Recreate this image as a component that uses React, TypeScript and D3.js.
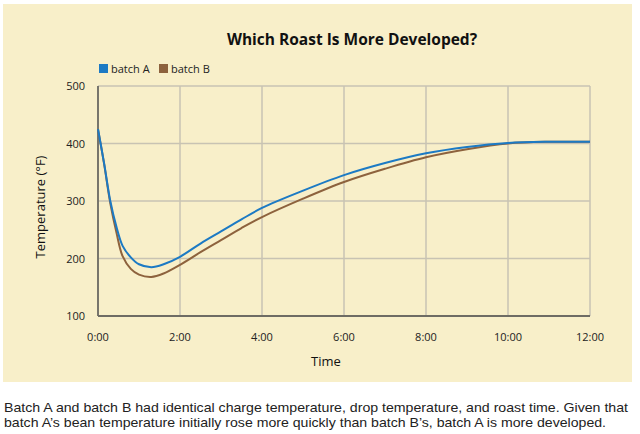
import * as React from "react"
import * as d3 from "d3"

// time in minutes
const times = [0, 0.15, 0.3, 0.45, 0.6, 0.8, 1.0, 1.3, 1.6, 2.0, 2.5, 3.0, 3.5, 4, 5, 6, 7, 8, 9, 10, 11, 12]
const batchA = [425, 365, 300, 255, 222, 202, 190, 185, 190, 203, 226, 247, 268, 288, 318, 345, 366, 383, 394, 401, 403, 403]
const batchB = [425, 364, 296, 245, 204, 182, 172, 168, 174, 189, 211, 232, 253, 272, 304, 333, 356, 376, 390, 400, 403, 403]

const xTicks = [0, 2, 4, 6, 8, 10, 12]
const yTicks = [100, 200, 300, 400, 500]

const seriesNames = ["batch A", "batch B"]
const seriesColors = ["#1c7ac4", "#8d623d"]

const caption = [
    "Batch A and batch B had identical charge temperature, drop temperature, and roast time. Given that",
    "batch A\u2019s bean temperature initially rose more quickly than batch B\u2019s, batch A is more developed.",
]

const W = 640
const H = 434
const margin = { top: 86, right: 50, bottom: 118, left: 98 }

const fmtTime = (m: number): string => m + ":00"

export default function App(): JSX.Element {
    const x = d3.scaleLinear().domain([0, 12]).range([margin.left, W - margin.right])
    const y = d3.scaleLinear().domain([100, 500]).range([H - margin.bottom, margin.top])

    const line = d3.line<number>()
        .x((d, i) => x(times[i]))
        .y(d => y(d))
        .curve(d3.curveCatmullRom.alpha(0.5))

    const font = "'Open Sans', 'Noto Sans', sans-serif"

    return (
        <div style={{ position: "absolute", left: 0, top: 0 }}>
            <svg width={W} height={H} style={{ display: "block", background: "#fff" }} fontFamily={font}>
                {/* panel */}
                <rect x={3} y={4} width={629} height={378} fill="#f8efc9" />

                <text x={352} y={45} textAnchor="middle" fontSize={15.5} fontWeight="bold" fill="#111">
                    Which Roast Is More Developed?
                </text>

                {/* legend */}
                {seriesNames.map((name, i) => (
                    <g key={name} transform={`translate(${99 + i * 60},64)`}>
                        <rect width={9} height={9} fill={seriesColors[i]} />
                        <text x={12} y={8.5} fontSize={11} fill="#222">{name}</text>
                    </g>
                ))}

                {/* grid */}
                {xTicks.map(t => (
                    <line key={"gx" + t} x1={x(t)} x2={x(t)} y1={y(500)} y2={y(100)} stroke="#c8c3b3" strokeWidth={1.5} />
                ))}
                {yTicks.map(t => (
                    <line key={"gy" + t} x1={x(0)} x2={x(12)} y1={y(t)} y2={y(t)} stroke="#c8c3b3" strokeWidth={1.5} />
                ))}

                {/* axes */}
                <line x1={x(0)} x2={x(0)} y1={y(500)} y2={y(100)} stroke="#6e6c64" strokeWidth={1.8} />
                <line x1={x(0)} x2={x(12)} y1={y(100)} y2={y(100)} stroke="#6e6c64" strokeWidth={1.8} />

                {yTicks.map(t => (
                    <text key={"yl" + t} x={85} y={y(t) + 4} textAnchor="end" fontSize={11} fill="#222">{t}</text>
                ))}
                {xTicks.map(t => (
                    <text key={"xl" + t} x={x(t)} y={341} textAnchor="middle" fontSize={11} fill="#222">{fmtTime(t)}</text>
                ))}

                <text x={326} y={366} textAnchor="middle" fontSize={13} fill="#111">Time</text>
                <text transform="translate(45,207) rotate(-90)" textAnchor="middle" fontSize={13} fill="#111">
                    Temperature (°F)
                </text>

                {/* lines */}
                <path d={line(batchB) || ""} fill="none" stroke={seriesColors[1]} strokeWidth={2} />
                <path d={line(batchA) || ""} fill="none" stroke={seriesColors[0]} strokeWidth={2} />

                {/* caption */}
                {caption.map((c, i) => (
                    <text key={i} x={4} y={412 + i * 15} fontSize={13} fill="#222"
                        fontFamily="'Liberation Sans', sans-serif"
                        textLength={i === 0 ? 624 : 602} lengthAdjust="spacingAndGlyphs">{c}</text>
                ))}
            </svg>
        </div>
    )
}
